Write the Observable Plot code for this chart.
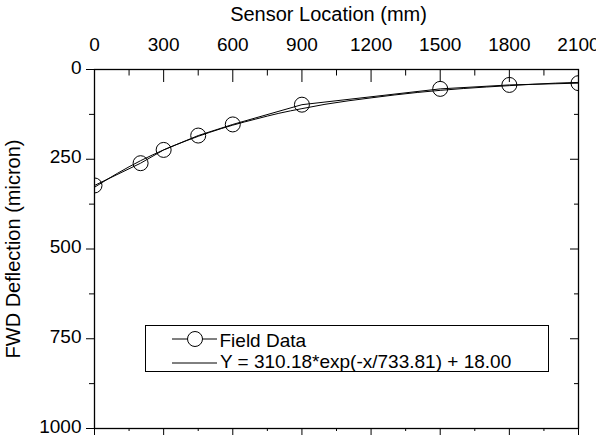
<!DOCTYPE html>
<html>
<head>
<meta charset="utf-8">
<script src="https://cdn.jsdelivr.net/npm/d3@7"></script>
<script src="https://cdn.jsdelivr.net/npm/@observablehq/plot@0.6"></script>
<style>
  html, body { margin: 0; padding: 0; background: white; overflow: hidden; }
  #wrap { position: relative; width: 596px; height: 444px; }
  #legend { position: absolute; left: 0; top: 0; }
</style>
</head>
<body>
<div id="wrap"></div>
<script>
// Field data (sensor location in mm, deflection in micron)
const sensorX = [0, 200, 300, 450, 600, 900, 1500, 1800, 2100];
const deflection = [323, 261, 224, 184, 153, 98, 54, 43, 38];

// Fitted curve values
const fitX = [0, 100, 200, 300, 400, 500, 600, 700, 800, 900, 1000, 1200, 1400, 1600, 1800, 2000, 2100];
const fitY = [328, 289, 254, 224, 198, 175, 155, 138, 122, 109, 97, 79, 64, 53, 45, 38, 36];

// Tick values
const xMajor = [0, 300, 600, 900, 1200, 1500, 1800, 2100];
const xMinor = [150, 450, 750, 1050, 1350, 1650, 1950];
const yMajor = [0, 250, 500, 750, 1000];
const yMinor = [125, 375, 625, 875];

const xTitle = "Sensor Location (mm)";
const yTitle = "FWD Deflection (micron)";
const legendLabels = ["Field Data", "Y = 310.18*exp(-x/733.81) + 18.00"];

const points = sensorX.map((x, i) => ({x, y: deflection[i]}));
const fit = fitX.map((x, i) => ({x, y: fitY[i]}));

const W = 596, H = 444, mL = 94, mR = 18, mT = 69, mB = 16;
const fw = W - mL - mR, fh = H - mT - mB;
const font = "'Liberation Sans', Arial, sans-serif";

const chart = Plot.plot({
  width: W,
  height: H,
  marginLeft: mL,
  marginRight: mR,
  marginTop: mT,
  marginBottom: mB,
  style: {fontFamily: font, background: "white", color: "black"},
  x: {domain: [0, 2100]},
  y: {domain: [0, 1000], reverse: true},
  marks: [
    // top ticks (inward)
    Plot.tickX(xMajor, {x: d => d, stroke: "black", strokeWidth: 1, insetBottom: fh - 13}),
    Plot.tickX(xMinor, {x: d => d, stroke: "black", strokeWidth: 1, insetBottom: fh - 6.5}),
    // bottom ticks (outward)
    Plot.tickX(xMajor, {x: d => d, stroke: "black", strokeWidth: 1, insetTop: fh, insetBottom: -7}),
    Plot.tickX(xMinor, {x: d => d, stroke: "black", strokeWidth: 1, insetTop: fh, insetBottom: -3}),
    // left ticks (outward)
    Plot.tickY(yMajor, {y: d => d, stroke: "black", strokeWidth: 1, insetLeft: -8, insetRight: fw}),
    Plot.tickY(yMinor, {y: d => d, stroke: "black", strokeWidth: 1, insetLeft: -5, insetRight: fw}),
    // right ticks (inward)
    Plot.tickY(yMajor, {y: d => d, stroke: "black", strokeWidth: 1, insetLeft: fw - 8}),
    Plot.tickY(yMinor, {y: d => d, stroke: "black", strokeWidth: 1, insetLeft: fw - 4}),
    Plot.axisX({anchor: "top", ticks: xMajor, tickSize: 0, tickPadding: 18.5, fontSize: 19, label: null, tickFormat: d => `${d}`}),
    Plot.axisY({anchor: "left", ticks: yMajor, tickSize: 0, tickPadding: 13, fontSize: 19, label: null, dy: -2, tickFormat: d => `${d}`}),
    Plot.text([xTitle], {frameAnchor: "top", text: d => d, dx: -8, dy: -48.5, lineAnchor: "bottom", textAnchor: "middle", fontSize: 20, fill: "black"}),
    Plot.text([yTitle], {frameAnchor: "left", text: d => d, rotate: -90, dx: -75, lineAnchor: "bottom", textAnchor: "middle", fontSize: 20, fill: "black"}),
    // fitted curve
    Plot.line(fit, {x: "x", y: "y", stroke: "black", strokeWidth: 1, curve: "monotone-x", clip: true}),
    // field data
    Plot.line(points, {x: "x", y: "y", stroke: "black", strokeWidth: 1, clip: true}),
    Plot.dot(points, {x: "x", y: "y", r: 7.5, stroke: "black", strokeWidth: 1, fill: "none", clip: true}),
    Plot.frame({stroke: "black", strokeWidth: 1.3})
  ]
});

const wrap = document.getElementById("wrap");
wrap.appendChild(chart);

// Legend drawn as an overlay box inside the plot area
const leg = d3.select(wrap).append("svg")
  .attr("id", "legend")
  .attr("width", W).attr("height", H)
  .style("font-family", font);
const box = {x: 145, y: 325, w: 403, h: 46};
leg.append("rect").attr("x", box.x + 0.5).attr("y", box.y + 0.5)
  .attr("width", box.w).attr("height", box.h)
  .attr("fill", "white").attr("stroke", "black").attr("stroke-width", 1);
const r1 = box.y + 14, r2 = box.y + 38;
leg.append("line").attr("x1", box.x + 27).attr("x2", box.x + 72).attr("y1", r1).attr("y2", r1)
  .attr("stroke", "black").attr("stroke-width", 1);
leg.append("circle").attr("cx", box.x + 50).attr("cy", r1).attr("r", 7.5)
  .attr("fill", "white").attr("stroke", "black").attr("stroke-width", 1);
leg.append("text").attr("x", box.x + 74.5).attr("y", box.y + 21.5)
  .attr("font-size", 19).attr("fill", "black").text(legendLabels[0]);
leg.append("line").attr("x1", box.x + 27).attr("x2", box.x + 72).attr("y1", r2).attr("y2", r2)
  .attr("stroke", "black").attr("stroke-width", 1);
leg.append("text").attr("x", box.x + 75).attr("y", box.y + 42.5)
  .attr("font-size", 19).attr("fill", "black").text(legendLabels[1]);
</script>
</body>
</html>
